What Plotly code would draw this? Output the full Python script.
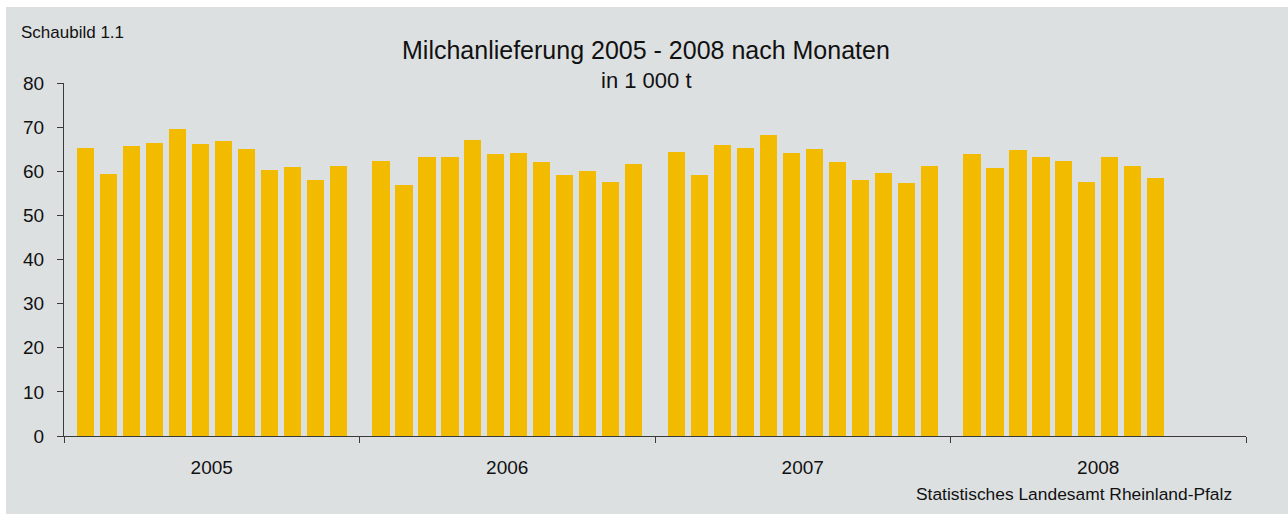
import plotly.graph_objects as go

# ---- data ----
years = ["2005", "2006", "2007", "2008"]
v2005 = [65.3, 59.4, 65.8, 66.4, 69.6, 66.2, 66.9, 65.1, 60.3, 61.0, 58.0, 61.2]
v2006 = [62.4, 56.9, 63.3, 63.3, 67.1, 64.0, 64.2, 62.1, 59.2, 60.1, 57.6, 61.7]
v2007 = [64.4, 59.2, 66.0, 65.3, 68.3, 64.2, 65.1, 62.1, 58.0, 59.6, 57.4, 61.2]
v2008 = [64.0, 60.8, 64.9, 63.3, 62.4, 57.6, 63.3, 61.2, 58.5]
y_ticks = [0, 10, 20, 30, 40, 50, 60, 70, 80]

series = [v2005, v2006, v2007, v2008]

# ---- layout helpers ----
W = 12.85      # width of one year block in bar-slot units
E = 0.935      # offset of first bar from block start
BAR_COLOR = "#F2BB00"
BG = "#DDE0E1"
AX = "#3a3a3a"
FONT = "Liberation Sans, Arial, sans-serif"

xs, ys = [], []
for yi, vals in enumerate(series):
    for m, v in enumerate(vals):
        xs.append(yi * W + E + m)
        ys.append(v)

fig = go.Figure(go.Bar(x=xs, y=ys, width=0.74,
                       marker=dict(color=BAR_COLOR, line=dict(width=0)),
                       hoverinfo="y"))

L, R, T, B = 64, 42, 83, 78
WIDTH, HEIGHT = 1288, 514
pw, ph = WIDTH - L - R, HEIGHT - T - B

def px_x(x):
    return (x - L) / pw

def px_y(y):
    return 1 + (T - y) / ph

fig.update_layout(
    width=WIDTH, height=HEIGHT, autosize=False,
    margin=dict(l=L, r=R, t=T, b=B, pad=0),
    paper_bgcolor="white", plot_bgcolor=BG,
    font=dict(family=FONT, color="#111111"),
    showlegend=False, bargap=0,
    xaxis=dict(range=[0, 4 * W], tickmode="array",
               tickvals=[yi * W + W / 2 for yi in range(len(years))],
               ticktext=years, ticks="", showline=True, linecolor=AX,
               linewidth=1, showgrid=False, zeroline=False,
               tickfont=dict(size=19, family=FONT, color="#111111"),
               ticklabelstandoff=14,
               minor=dict(tickmode="array",
                          tickvals=[yi * W for yi in range(len(years) + 1)],
                          ticks="outside", ticklen=6, tickcolor=AX,
                          tickwidth=1, showgrid=False),
               fixedrange=True),
    yaxis=dict(range=[0, 80], tickmode="array", tickvals=y_ticks,
               ticks="outside", ticklen=6, tickcolor=AX, tickwidth=1,
               showline=True, linecolor=AX, linewidth=1,
               showgrid=False, zeroline=False,
               tickfont=dict(size=19, family=FONT, color="#111111"),
               ticklabelstandoff=9, fixedrange=True),
    shapes=[dict(type="rect", xref="paper", yref="paper",
                 x0=px_x(6), x1=px_x(WIDTH + 5), y0=px_y(HEIGHT + 5), y1=px_y(7),
                 fillcolor=BG, line=dict(width=0), layer="below")],
    annotations=[
        dict(text="Schaubild 1.1", xref="paper", yref="paper",
             x=px_x(19), y=px_y(32), xanchor="left", yanchor="middle",
             showarrow=False, font=dict(size=17, family=FONT, color="#111111")),
        dict(text="Milchanlieferung 2005 - 2008 nach Monaten", xref="paper", yref="paper",
             x=px_x(646), y=px_y(50), xanchor="center", yanchor="middle",
             showarrow=False, font=dict(size=25, family=FONT, color="#111111")),
        dict(text="in 1 000 t", xref="paper", yref="paper",
             x=px_x(646), y=px_y(81), xanchor="center", yanchor="middle",
             showarrow=False, font=dict(size=22, family=FONT, color="#111111")),
        dict(text="Statistisches Landesamt Rheinland-Pfalz", xref="paper", yref="paper",
             x=px_x(1234), y=px_y(494), xanchor="right", yanchor="middle",
             showarrow=False, font=dict(size=17.4, family=FONT, color="#111111")),
    ],
)

fig.write_html("out.html", config={"displayModeBar": False},
               post_script="document.body.style.margin='0px';")
